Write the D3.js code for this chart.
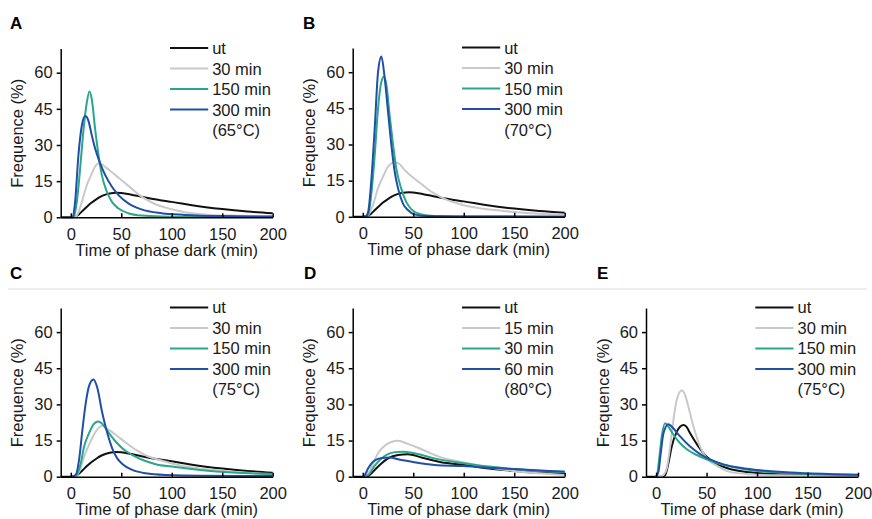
<!DOCTYPE html>
<html>
<head>
<meta charset="utf-8">
<script src="https://d3js.org/d3.v7.min.js"></script>
<style>
  body { margin: 0; background: #ffffff; }
  text { font-family: Arial, "Liberation Sans", sans-serif; }
</style>
</head>
<body>
<div class="chart"></div>
<script>
// ************************ DATA ************************

// [time of phase dark (min), frequence (%)]
// untreated curve, same in panels A, B and C
const utABC = [[-10,0],[0,0],[4,0.1],[8,1.2],[12,2.8],[16,4.4],[20,5.9],[25,7.4],[30,8.7],[35,9.5],[40,10],[45,10.2],[50,10.1],[60,9.4],[70,8.5],[80,7.7],[90,7],[100,6.4],[120,5],[150,3.4],[175,2.4],[200,1.65]]

// panel A (65°C)
const grayA = [[0,0],[5,0.3],[8,2.5],[11,6.5],[16,13.5],[21,18.3],[24,21],[28,22.4],[32,21.6],[38,19.6],[44,17.6],[50,15.5],[60,12],[67,9.5],[75,7.3],[84,5.4],[94,4],[104,2.9],[114,2],[134,1.1],[160,0.7],[200,0.4]]
const greenA = [[0,0],[3,0.3],[6,6.5],[9.2,20],[12.5,36],[15.8,47.5],[18.5,52.2],[20.8,49],[24,37],[27.4,26],[30.7,17.6],[35.6,10.7],[40.6,6.5],[47,3.75],[57,1.7],[70,0.7],[90,0.3],[120,0.15],[200,0.1]]
const blueA = [[0,0],[2,0.3],[4.3,6.5],[7.6,26],[10.9,38],[14.2,42],[17.5,40],[20.8,34],[24,28.7],[29,22.5],[34,17.6],[40.6,12.8],[47,9.3],[57,5.8],[70,3.3],[90,1.7],[113,1],[150,0.5],[200,0.3]]

// panel B (70°C)
const grayB = [[0,0],[5,0.4],[7,2],[10,4.8],[15,11.8],[20,16.6],[25,20.8],[31.6,22.6],[36,22],[41,19.6],[51,15.9],[60,13],[68,10.4],[76,8.5],[84,6.9],[92,5.8],[100,4.8],[120,3.3],[150,2],[175,1.3],[200,0.9]]
const greenB = [[0,0],[4,0.2],[6,2],[8.6,10],[11.8,25.6],[15.1,45],[18.4,56],[21,58.2],[23.4,54.7],[26.6,42],[30,29.8],[33.2,20],[38,11.8],[43,6.2],[48,3.2],[58,1],[71,0.3],[100,0.1],[200,0.05]]
const blueB = [[0,0],[3,0.2],[5.3,2],[8.6,16],[11.8,36.7],[15.1,60],[18.4,66.5],[21.7,57.5],[25,43.6],[28.3,29.8],[31.6,18.7],[34.9,11.8],[39.8,5.5],[44.7,2.8],[51,1],[64,0.3],[100,0.1],[200,0.05]]

// panel C (75°C)
const grayC = [[0,0],[5,0.3],[8.2,2],[13.2,8.3],[18,13.2],[24.7,18.7],[31.2,21.1],[37.8,19.4],[44.4,17.4],[55,14],[65,11],[75,8.7],[87,7],[100,5.5],[120,3.8],[150,2.5],[175,1.6],[200,1.1]]
const greenC = [[0,0],[3,0.3],[6.6,1.4],[9.9,5.6],[13.2,12.5],[18,18],[23,22],[27.3,22.9],[31,22],[38,18],[44.4,14.6],[51,11.8],[64,8.3],[84,5.2],[100,4.2],[128,2.8],[160,1.7],[200,1.1]]
const blueC = [[0,0],[2,0.1],[4.9,0.7],[8.2,7],[11.5,19.4],[14.8,30.5],[18,37.5],[22.4,40.3],[26.3,36.8],[31.2,26.4],[36.2,18],[41,11.8],[46,7.6],[51,5.3],[61,2.8],[74,1.4],[94,0.7],[130,0.4],[200,0.3]]

// panel D (80°C)
const utD = [[-10,0],[0,0],[5.3,0.3],[11.8,2.8],[18.4,5.5],[25,7.6],[35,9],[44.7,9.3],[58,8],[77.6,6],[100,4.9],[125,3.4],[150,2.4],[175,1.6],[200,1.1]]
const grayD = [[0,0],[3,0.3],[5.3,1.4],[10.2,5.6],[15.1,9.7],[21.7,12.8],[28.3,14.4],[34.9,14.9],[44.7,13.6],[58,11.4],[77.6,8],[99,6],[125,3.8],[149,2.4],[175,1.4],[200,0.7]]
const greenD = [[0,0],[5.3,0.7],[11.8,4.6],[18.4,7.6],[25,9.4],[32,10.2],[40,10.4],[51,9.7],[71,7.6],[100,5.6],[125,4.2],[150,3.2],[175,2.5],[200,2.1]]
const blueD = [[0,0],[2,0.7],[5.3,3.5],[10.2,6.2],[15,7.4],[21.7,7.9],[27,8],[35,7.2],[51,6],[71,4.9],[100,4.4],[125,3.7],[150,3.2],[175,2.6],[200,2.1]]

// panel E (75°C)
const utE = [[-10,0],[0,0],[6,0.1],[9,0.7],[12.2,5.6],[15.5,12.5],[20.5,18.7],[24,20.8],[27,21.5],[30,20.8],[33.7,18],[42,12.5],[50,8.3],[60,5.3],[73,3.2],[93,1.8],[110,1.2],[150,0.7],[200,0.5]]
const grayE = [[0,0],[4,0.1],[7.3,0.7],[10.6,3.5],[13.9,12.5],[17.2,23.6],[20.5,32],[25.4,35.8],[28.7,34],[32,29],[37,20.8],[43.6,12.5],[50,7.6],[60,4.6],[73,2],[93,1],[120,0.6],[200,0.4]]
const greenE = [[0,0],[1.3,1.4],[3.3,8.3],[5.6,16.7],[8.9,22.2],[12.2,20.8],[17.2,17.4],[23.8,13.9],[30.4,11.4],[40.3,9],[50,7.2],[63.4,5.3],[80,3.7],[100,2.4],[125,1.6],[150,1.1],[200,0.7]]
const blueE = [[0,0],[2.3,2],[4.6,9.7],[7.3,18],[12.2,21.8],[17.2,20],[23.8,16.7],[33.7,12.5],[43.6,9.4],[53.5,7.2],[66.7,5.1],[80,3.9],[100,2.8],[125,1.9],[150,1.4],[200,0.8]]

// legend labels and tick values
const labelsStd = ["ut", "30 min", "150 min", "300 min"]
const labelsD = ["ut", "15 min", "30 min", "60 min"]
const temps = ["(65°C)", "(70°C)", "(75°C)", "(80°C)", "(75°C)"]
const panelNames = ["A", "B", "C", "D", "E"]
const xTicks = [0, 50, 100, 150, 200]
const yTicks = [0, 15, 30, 45, 60]

// line colours: ut, short, medium, long
const colors = ["#111111", "#c9c9c9", "#2aa68b", "#1f4fa6"]

// *************************** LAYOUT ***************************

const width = 872
const height = 519
const fontSize = "16.5px"

// y-axis x position, zero line y position, letter position
const layout = [
  { ox: 60.7, oy: 217.3, lx: 10, ly: 28.5 },
  { ox: 352.7, oy: 216.8, lx: 303, ly: 28.5 },
  { ox: 60.7, oy: 476.7, lx: 10, ly: 278.5 },
  { ox: 352.7, oy: 476.7, lx: 304, ly: 278.5 },
  { ox: 646, oy: 476.7, lx: 597, ly: 278.5 }
]

const panels = [
  { series: [utABC, grayA, greenA, blueA], labels: labelsStd },
  { series: [utABC, grayB, greenB, blueB], labels: labelsStd },
  { series: [utABC, grayC, greenC, blueC], labels: labelsStd },
  { series: [utD, grayD, greenD, blueD], labels: labelsD },
  { series: [utE, grayE, greenE, blueE], labels: labelsStd }
]

const svg = d3.select(".chart")
  .append("svg")
  .attr("width", width)
  .attr("height", height)

// thin separator between the two rows
svg.append("line")
  .attr("x1", 8)
  .attr("x2", 867)
  .attr("y1", 289)
  .attr("y2", 289)
  .attr("stroke", "#dcdcdc")
  .attr("stroke-width", 1)

// ************************ DRAW ONE PANEL ************************

const drawPanel = (p, i) => {
  const pos = layout[i]

  const xScale = d3.scaleLinear()
    .domain([-10, 200])
    .range([pos.ox, pos.ox + 212])

  const yScale = d3.scaleLinear()
    .domain([0, 70])
    .range([pos.oy, pos.oy - 168.7])

  const g = svg.append("g")

  // panel letter
  g.append("text")
    .attr("x", pos.lx)
    .attr("y", pos.ly)
    .style("font-size", "17px")
    .style("font-weight", "bold")
    .text(panelNames[i])

  // curves
  const line = d3.line()
    .x((d) => xScale(d[0]))
    .y((d) => yScale(d[1]))
    .curve(d3.curveMonotoneX)

  p.series.forEach((s, k) => {
    g.append("path")
      .datum(s)
      .attr("d", line)
      .attr("fill", "none")
      .attr("stroke", colors[k])
      .attr("stroke-width", 2)
  })

  // x-axis, ticks point inward
  const xAxis = d3.axisBottom(xScale)
    .tickValues(xTicks)
    .tickSizeInner(-4)
    .tickSizeOuter(0)
    .tickPadding(10.5)
  const gx = g.append("g")
    .attr("transform", "translate(0, " + pos.oy + ")")
    .call(xAxis)

  // y-axis
  const yAxis = d3.axisLeft(yScale)
    .tickValues(yTicks)
    .tickSizeInner(4)
    .tickSizeOuter(0)
    .tickPadding(4)
  const gy = g.append("g")
    .attr("transform", "translate(" + pos.ox + ", 0)")
    .call(yAxis)

  ;[gx, gy].forEach((a) => {
    a.selectAll("path, line").attr("stroke", "#000").attr("stroke-width", 1.5)
    a.selectAll("text")
      .attr("fill", "#1a1a1a")
      .style("font-size", fontSize)
      .style("font-family", "Arial, 'Liberation Sans', sans-serif")
  })

  // axis titles
  g.append("text")
    .attr("x", pos.ox + 106)
    .attr("y", pos.oy + 38.5)
    .attr("text-anchor", "middle")
    .attr("fill", "#1a1a1a")
    .style("font-size", fontSize)
    .text("Time of phase dark (min)")

  g.append("text")
    .attr("transform", "translate(" + (pos.ox - 37.5) + ", " + (pos.oy - 84) + ") rotate(-90)")
    .attr("text-anchor", "middle")
    .attr("fill", "#1a1a1a")
    .style("font-size", fontSize)
    .text("Frequence (%)")

  // legend
  const top = yScale(70) - 0.6
  p.labels.forEach((lab, k) => {
    const cy = top + k * 20.5
    g.append("line")
      .attr("x1", pos.ox + 109.3)
      .attr("x2", pos.ox + 147.5)
      .attr("y1", cy)
      .attr("y2", cy)
      .attr("stroke", colors[k])
      .attr("stroke-width", 2)
    g.append("text")
      .attr("x", pos.ox + 151.5)
      .attr("y", cy + 6)
      .attr("fill", "#1a1a1a")
      .style("font-size", fontSize)
      .text(lab)
  })
  g.append("text")
    .attr("x", pos.ox + 151.5)
    .attr("y", top + 4 * 20.5 + 6)
    .attr("fill", "#1a1a1a")
    .style("font-size", fontSize)
    .text(temps[i])
}

panels.forEach(drawPanel)
</script>
</body>
</html>
